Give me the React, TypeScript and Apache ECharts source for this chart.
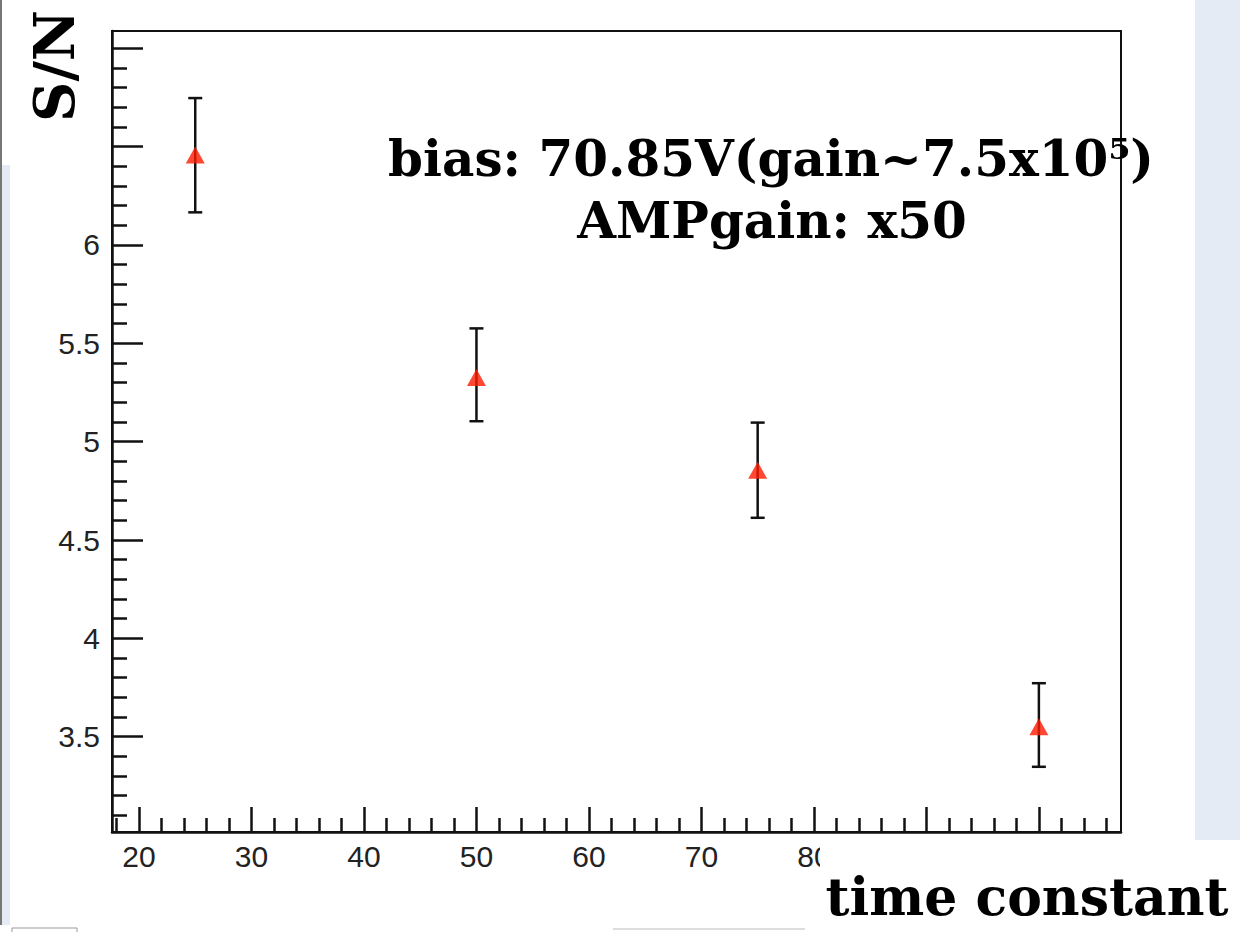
import React, { useEffect, useRef } from "react";
import * as echarts from "echarts";

// time constant (x) and S/N values with error-bar extents
const timeConstants = [25, 50, 75, 100];
const snValues = [6.458, 5.326, 4.855, 3.551];
const errLow = [6.166, 5.104, 4.613, 3.347];
const errHigh = [6.747, 5.576, 5.097, 3.772];

const xMajorTicks = [20, 30, 40, 50, 60, 70, 80, 90, 100];
// 90 and 100 are hidden behind the axis-title box in the reference
const xTickLabels = [20, 30, 40, 50, 60, 70, 80];
const xMinorTicks = [18, 22, 24, 26, 28, 32, 34, 36, 38, 42, 44, 46, 48, 52, 54, 56, 58, 62, 64, 66, 68, 72, 74, 76, 78, 82, 84, 86, 88, 92, 94, 96, 98, 102, 104, 106];
const yMajorTicks = [3.5, 4, 4.5, 5, 5.5, 6, 6.5, 7];
const yTickLabels = [3.5, 4, 4.5, 5, 5.5, 6];
const yMinorTicks = [3.1, 3.2, 3.3, 3.4, 3.6, 3.7, 3.8, 3.9, 4.1, 4.2, 4.3, 4.4, 4.6, 4.7, 4.8, 4.9, 5.1, 5.2, 5.3, 5.4, 5.6, 5.7, 5.8, 5.9, 6.1, 6.2, 6.3, 6.4, 6.6, 6.7, 6.8, 6.9];

const X_MIN = 17.6;
const X_MAX = 107.3;
const Y_MIN = 3.0155;
const Y_MAX = 7.088;

const TEXT_FONT = "bold 50px 'DejaVu Serif'";
const TICK_FONT = "'Liberation Sans', Arial, sans-serif";
const INK = "#111";
const LW = 2.5;

export default function App() {
  const ref = useRef<HTMLDivElement>(null);

  useEffect(() => {
    document.body.style.margin = "0";
    if (!ref.current) return;
    const chart = echarts.init(ref.current, null, { renderer: "svg" });

    const errData = timeConstants.map((x, i) => [x, errLow[i], errHigh[i]]);
    const pointData = timeConstants.map((x, i) => [x, snValues[i]]);

    const baseX = {
      type: "value",
      min: X_MIN,
      max: X_MAX,
      position: "bottom",
      splitLine: { show: false },
    };
    const baseY = {
      type: "value",
      min: Y_MIN,
      max: Y_MAX,
      position: "left",
      splitLine: { show: false },
    };

    chart.setOption({
      animation: false,
      backgroundColor: "#ffffff",
      grid: {
        left: 112,
        top: 31,
        right: 119,
        bottom: 100,
        show: true,
        backgroundColor: "#ffffff",
        borderColor: INK,
        borderWidth: 2,
      },
      xAxis: [
        {
          ...baseX,
          axisLine: { show: true, lineStyle: { color: INK, width: LW } },
          axisTick: {
            show: true,
            inside: true,
            length: 25,
            customValues: xMajorTicks,
            lineStyle: { color: INK, width: LW },
          },
          axisLabel: {
            show: true,
            customValues: xTickLabels,
            margin: 9,
            color: "#222",
            fontSize: 30,
            fontFamily: TICK_FONT,
          },
        },
        {
          ...baseX,
          axisLine: { show: false },
          axisTick: {
            show: true,
            inside: true,
            length: 14,
            customValues: xMinorTicks,
            lineStyle: { color: INK, width: LW },
          },
          axisLabel: { show: false },
        },
      ],
      yAxis: [
        {
          ...baseY,
          axisLine: { show: true, lineStyle: { color: INK, width: LW } },
          axisTick: {
            show: true,
            inside: true,
            length: 31,
            customValues: yMajorTicks,
            lineStyle: { color: INK, width: LW },
          },
          axisLabel: {
            show: true,
            customValues: yTickLabels,
            margin: 12,
            color: "#222",
            fontSize: 30,
            fontFamily: TICK_FONT,
          },
        },
        {
          ...baseY,
          axisLine: { show: false },
          axisTick: {
            show: true,
            inside: true,
            length: 15,
            customValues: yMinorTicks,
            lineStyle: { color: INK, width: LW },
          },
          axisLabel: { show: false },
        },
      ],
      series: [
        {
          type: "custom",
          xAxisIndex: 0,
          yAxisIndex: 0,
          data: errData,
          encode: { x: 0, y: [1, 2] },
          renderItem: (params: any, api: any) => {
            const x = api.value(0);
            const lo = api.coord([x, api.value(1)]);
            const hi = api.coord([x, api.value(2)]);
            const cap = 7;
            const style = { stroke: INK, lineWidth: 2.5 };
            return {
              type: "group",
              children: [
                { type: "line", shape: { x1: hi[0], y1: hi[1], x2: lo[0], y2: lo[1] }, style },
                { type: "line", shape: { x1: hi[0] - cap, y1: hi[1], x2: hi[0] + cap, y2: hi[1] }, style },
                { type: "line", shape: { x1: lo[0] - cap, y1: lo[1], x2: lo[0] + cap, y2: lo[1] }, style },
              ],
            };
          },
          z: 2,
        },
        {
          type: "scatter",
          xAxisIndex: 0,
          yAxisIndex: 0,
          data: pointData,
          symbol: "triangle",
          symbolSize: [19, 17],
          itemStyle: { color: "#ff1a00" },
          z: 3,
        },
      ],
      graphic: [
        // right textured panel
        { type: "rect", z: -10, shape: { x: 1195, y: 0, width: 45, height: 840 }, style: { fill: "#e4ebf5" } },
        // left strip
        { type: "rect", z: -10, shape: { x: 0, y: 165, width: 10, height: 760 }, style: { fill: "#e4ebf5" } },
        { type: "line", z: -9, shape: { x1: 1, y1: 0, x2: 1, y2: 925 }, style: { stroke: "#777", lineWidth: 2 } },
        // white box behind the x-axis title
        { type: "rect", z: 50, shape: { x: 820, y: 840, width: 420, height: 92 }, style: { fill: "#ffffff" } },
        // faint remnants at the bottom
        { type: "rect", z: 51, shape: { x: 12, y: 928, width: 65, height: 10 }, style: { fill: "none", stroke: "#999", lineWidth: 1 } },
        { type: "line", z: 51, shape: { x1: 613, y1: 929, x2: 805, y2: 929 }, style: { stroke: "#bbb", lineWidth: 1 } },
        {
          type: "text",
          z: 100,
          style: {
            text: "bias: 70.85V(gain~7.5x10\u2075)",
            x: 771,
            y: 158,
            textAlign: "center",
            textVerticalAlign: "middle",
            font: TEXT_FONT,
            fill: "#000",
          },
        },
        {
          type: "text",
          z: 100,
          style: {
            text: "AMPgain: x50",
            x: 772,
            y: 220,
            textAlign: "center",
            textVerticalAlign: "middle",
            font: TEXT_FONT,
            fill: "#000",
          },
        },
        {
          type: "text",
          z: 100,
          style: {
            text: "time constant",
            x: 1027,
            y: 896,
            textAlign: "center",
            textVerticalAlign: "middle",
            font: "bold 52px 'DejaVu Serif'",
            fill: "#000",
          },
        },
        {
          type: "text",
          z: 100,
          x: 54,
          y: 66,
          rotation: Math.PI / 2,
          style: {
            text: "S/N",
            x: 0,
            y: 0,
            textAlign: "center",
            textVerticalAlign: "middle",
            font: "bold 56px 'DejaVu Serif'",
            fill: "#000",
          },
        },
      ],
    });

    return () => chart.dispose();
  }, []);

  return <div ref={ref} style={{ width: 1240, height: 932 }} />;
}
